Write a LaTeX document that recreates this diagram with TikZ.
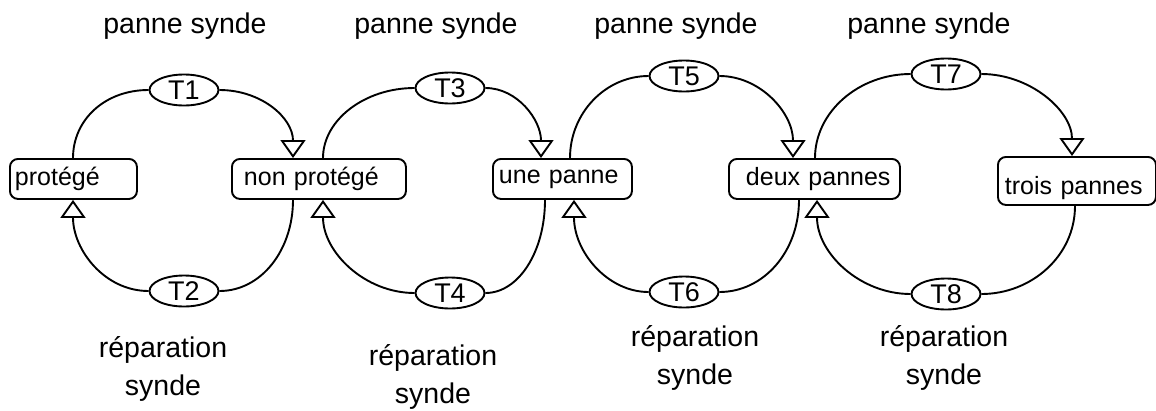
\documentclass[tikz,border=0pt]{standalone}
\usepackage{fontspec}
\setmainfont{Liberation Sans}
\usetikzlibrary{arrows.meta,shapes.geometric}
\begin{document}
\begin{tikzpicture}[x=1pt,y=-1pt,
  state/.style={draw, line width=1.9pt, rounded corners=8pt,
    font=\fontsize{25}{30}\selectfont, align=left, inner xsep=4pt, inner ysep=0pt,
    minimum height=40pt, anchor=north west},
  trans/.style={draw, ellipse, line width=1.9pt, minimum width=69pt,
    minimum height=31pt, inner sep=0pt, font=\fontsize{27}{30}\selectfont},
  lbl/.style={font=\fontsize{28.5}{38}\selectfont, align=center},
  link/.style={line width=1.9pt},
  flow/.style={link, -{Triangle[open, width=25pt, length=18pt]}}]
\useasboundingbox (0,0) rectangle (1156,410);

% states
\node[state, text width=119pt] (prot)  at (9,158)   {\hspace*{1pt}protégé};
\node[state, text width=166pt] (nonp)  at (231,158) {\hspace*{8pt}non protégé};
\node[state, text width=131pt] (une)   at (492,158) {\hspace*{2pt}une panne};
\node[state, text width=163pt] (deux)  at (728,158) {\hspace*{13pt}deux pannes};
\node[state, text width=150pt, minimum height=48pt] (trois) at (997,156)
  {\hspace*{3pt}\raisebox{-7pt}[18pt][5pt]{trois pannes}};

% transitions
\node[trans] (T1) at (184,90)  {T1};
\node[trans] (T2) at (184,291) {T2};
\node[trans] (T3) at (450,88)  {T3};
\node[trans] (T4) at (450,293) {T4};
\node[trans] (T5) at (684,76)  {T5};
\node[trans] (T6) at (684,292) {T6};
\node[trans] (T7) at (946,74)  {T7};
\node[trans] (T8) at (946,294) {T8};

% event labels
\node[lbl, anchor=base] (p1) at (185,33) {panne synde};
\node[lbl, anchor=base] (p2) at (436,33) {panne synde};
\node[lbl, anchor=base] (p3) at (676,33) {panne synde};
\node[lbl, anchor=base] (p4) at (929,33) {panne synde};
\node[lbl] (r1) at (163,369) {réparation\\synde};
\node[lbl] (r2) at (433,377) {réparation\\synde};
\node[lbl] (r3) at (695,358) {réparation\\synde};
\node[lbl] (r4) at (944,358) {réparation\\synde};

% loop protégé / non protégé
\draw[link] ([xshift=64pt]prot.north west) .. controls +(0,-38) and +(-44,0) .. (T1.west);
\draw[flow] (T1.east) .. controls +(42,0) and +(0,-40) .. ([xshift=62pt]nonp.north west);
\draw[link] ([xshift=62pt]nonp.south west) .. controls +(0,50) and +(42,0) .. (T2.east);
\draw[flow] (T2.west) .. controls +(-44,0) and +(0,50) .. ([xshift=64pt]prot.south west);

% loop non protégé / une panne
\draw[link] ([xshift=92pt]nonp.north west) .. controls +(0,-38) and +(-50,0) .. (T3.west);
\draw[flow] (T3.east) .. controls +(32,0) and +(0,-38) .. ([xshift=49pt]une.north west);
\draw[link] ([xshift=53pt]une.south west) .. controls +(0,52) and +(33,0) .. (T4.east);
\draw[flow] (T4.west) .. controls +(-50,0) and +(0,52) .. ([xshift=92pt]nonp.south west);

% loop une panne / deux pannes
\draw[link] ([xshift=78pt]une.north west) .. controls +(0,-45) and +(-43,0) .. (T5.west);
\draw[flow] (T5.east) .. controls +(41,0) and +(0,-45) .. ([xshift=65pt]deux.north west);
\draw[link] ([xshift=71pt]deux.south west) .. controls +(0,52) and +(44,0) .. (T6.east);
\draw[flow] (T6.west) .. controls +(-41,0) and +(0,52) .. ([xshift=82pt]une.south west);

% loop deux pannes / trois pannes
\draw[link] ([xshift=87pt]deux.north west) .. controls +(0,-46) and +(-52,0) .. (T7.west);
\draw[flow] (T7.east) .. controls +(49,0) and +(0,-45) .. ([xshift=75pt]trois.north west);
\draw[link] ([xshift=78pt]trois.south west) .. controls +(0,50) and +(50,0) .. (T8.east);
\draw[flow] (T8.west) .. controls +(-51,0) and +(0,53) .. ([xshift=89pt]deux.south west);
\end{tikzpicture}
\end{document}
